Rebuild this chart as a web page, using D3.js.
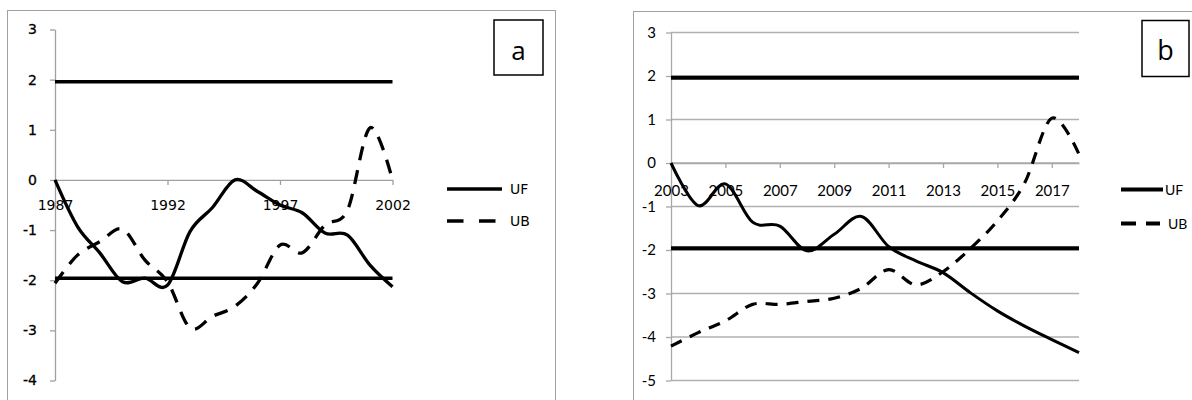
<!DOCTYPE html>
<html>
<head>
<meta charset="utf-8">
<script src="https://cdn.jsdelivr.net/npm/d3@7"></script>
<style>
  body { margin: 0; background: #fff; }
  svg { display: block; }
</style>
</head>
<body>
<svg></svg>
<script>
// chart data
const yearsA = [1987, 1988, 1989, 1990, 1991, 1992, 1993, 1994, 1995, 1996, 1997, 1998, 1999, 2000, 2001, 2002];
const ufA = [0, -0.93, -1.46, -2.03, -1.96, -2.1, -1.03, -0.55, 0.0, -0.23, -0.5, -0.66, -1.06, -1.1, -1.7, -2.13];
const ubA = [-2.06, -1.5, -1.23, -0.98, -1.6, -2.03, -2.95, -2.72, -2.52, -2.06, -1.3, -1.45, -0.9, -0.6, 1.04, 0.0];
const xTicksA = [1987, 1992, 1997, 2002];
const yTicksA = [3, 2, 1, 0, -1, -2, -3, -4];

const yearsB = [2003, 2004, 2005, 2006, 2007, 2008, 2009, 2010, 2011, 2012, 2013, 2014, 2015, 2016, 2017, 2018];
const ufB = [0, -0.98, -0.48, -1.36, -1.45, -2.02, -1.64, -1.23, -1.92, -2.25, -2.52, -2.98, -3.4, -3.75, -4.06, -4.36];
const ubB = [-4.21, -3.9, -3.63, -3.25, -3.25, -3.18, -3.11, -2.88, -2.45, -2.8, -2.5, -1.97, -1.33, -0.46, 1.03, 0.2];
const xTicksB = [2003, 2005, 2007, 2009, 2011, 2013, 2015, 2017];
const yTicksB = [3, 2, 1, 0, -1, -2, -3, -4, -5];

const critical = [1.96, -1.96];
const seriesNames = ['UF', 'UB'];

const width = 1192,
      height = 400;

const svg = d3.select('svg')
              .attr('width', width)
              .attr('height', height);

svg.append('rect')
   .attr('width', width).attr('height', height)
   .attr('fill', '#fff');

// smoothed lines like the spreadsheet ones
const curve = d3.curveCardinal.tension(0);

/* ---------- panel a ---------- */
const fontA = 'DejaVu Sans, Verdana, sans-serif';

const xA = d3.scaleLinear().domain([1987, 2002]).range([55, 392.5]);
const yA = d3.scaleLinear().domain([-4, 3]).range([380.5, 29.5]);

// outer frame
svg.append('rect')
   .attr('x', 7.5).attr('y', 10.5)
   .attr('width', 548).attr('height', 420)
   .attr('fill', 'none')
   .attr('stroke', '#a0a0a0');

// y axis
const yAxisA = svg.append('g')
   .attr('transform', 'translate(' + xA(1987) + ',0)')
   .call(d3.axisLeft(yA).tickValues(yTicksA).tickSize(5).tickSizeOuter(0).tickPadding(13).tickFormat(d => String(d)));

// x axis on the zero line
const xAxisA = svg.append('g')
   .attr('transform', 'translate(0,' + yA(0) + ')')
   .call(d3.axisBottom(xA).tickValues(xTicksA).tickSize(5).tickSizeOuter(0).tickFormat(d => String(d)));

xAxisA.selectAll('text').attr('y', 30).attr('dy', 0);

[yAxisA, xAxisA].forEach(function(g) {
  g.selectAll('path, line').attr('stroke', '#a0a0a0').attr('stroke-width', 1.3);
  g.selectAll('text')
   .attr('font-family', fontA)
   .attr('font-size', '14px')
   .attr('fill', '#000');
});
yAxisA.selectAll('text').attr('stroke', '#000').attr('stroke-width', 0.3);

// +/- 1.96 lines
svg.append('g').selectAll('line')
   .data(critical)
   .enter().append('line')
   .attr('x1', xA(1987)).attr('x2', xA(2002))
   .attr('y1', d => yA(d)).attr('y2', d => yA(d))
   .attr('stroke', '#000')
   .attr('stroke-width', 3.5);

const lineA = d3.line()
   .x((d, i) => xA(yearsA[i]))
   .y(d => yA(d))
   .curve(curve);

svg.append('path')
   .attr('d', lineA(ufA))
   .attr('fill', 'none')
   .attr('stroke', '#000')
   .attr('stroke-width', 3.3);

svg.append('path')
   .attr('d', lineA(ubA))
   .attr('fill', 'none')
   .attr('stroke', '#000')
   .attr('stroke-width', 3.3)
   .attr('stroke-dasharray', '14,10');

// legend a
const legA = svg.append('g').attr('font-family', fontA).attr('font-size', '14px');
seriesNames.forEach(function(name, i) {
  const ly = 189 + i * 32;
  legA.append('line')
      .attr('x1', 447).attr('x2', i === 0 ? 502 : 496)
      .attr('y1', ly).attr('y2', ly)
      .attr('stroke', '#000')
      .attr('stroke-width', 3.5)
      .attr('stroke-dasharray', i === 0 ? null : '16.5,15.5');
  legA.append('text')
      .attr('x', 510).attr('y', ly + 5)
      .text(name);
});

// label box a
svg.append('rect')
   .attr('x', 494).attr('y', 20)
   .attr('width', 49).attr('height', 55)
   .attr('fill', '#fff')
   .attr('stroke', '#000')
   .attr('stroke-width', 1.5);
svg.append('text')
   .attr('x', 518.5).attr('y', 60)
   .attr('text-anchor', 'middle')
   .attr('font-family', 'Open Sans, sans-serif')
   .attr('font-size', '26px')
   .text('a');

/* ---------- panel b ---------- */
const fontB = 'Lato, Open Sans, sans-serif';

const xB = d3.scaleLinear().domain([2003, 2018]).range([671, 1079]);
const yB = d3.scaleLinear().domain([-5, 3]).range([380.5, 32.5]);

svg.append('rect')
   .attr('x', 633.5).attr('y', 11.5)
   .attr('width', 580).attr('height', 420)
   .attr('fill', 'none')
   .attr('stroke', '#a0a0a0');

// horizontal gridlines
svg.append('g').selectAll('line')
   .data(yTicksB)
   .enter().append('line')
   .attr('x1', xB(2003)).attr('x2', xB(2018))
   .attr('y1', d => yB(d)).attr('y2', d => yB(d))
   .attr('stroke', '#b0b0b0')
   .attr('stroke-width', 1.3);

const yAxisB = svg.append('g')
   .attr('transform', 'translate(' + xB(2003) + ',0)')
   .call(d3.axisLeft(yB).tickValues(yTicksB).tickSize(5).tickSizeOuter(0).tickPadding(10).tickFormat(d => String(d)));

const xAxisB = svg.append('g')
   .attr('transform', 'translate(0,' + yB(0) + ')')
   .call(d3.axisBottom(xB).tickValues(xTicksB).tickSize(5).tickSizeOuter(0).tickFormat(d => String(d)));

xAxisB.selectAll('text').attr('y', 33).attr('dy', 0);

[yAxisB, xAxisB].forEach(function(g) {
  g.selectAll('path, line').attr('stroke', '#a8a8a8').attr('stroke-width', 1.3);
  g.selectAll('text')
   .attr('font-family', fontB)
   .attr('font-size', '15px')
   .attr('fill', '#000');
});

svg.append('g').selectAll('line')
   .data(critical)
   .enter().append('line')
   .attr('x1', xB(2003)).attr('x2', xB(2018))
   .attr('y1', d => yB(d)).attr('y2', d => yB(d))
   .attr('stroke', '#000')
   .attr('stroke-width', 4);

const lineB = d3.line()
   .x((d, i) => xB(yearsB[i]))
   .y(d => yB(d))
   .curve(curve);

svg.append('path')
   .attr('d', lineB(ufB))
   .attr('fill', 'none')
   .attr('stroke', '#000')
   .attr('stroke-width', 3);

svg.append('path')
   .attr('d', lineB(ubB))
   .attr('fill', 'none')
   .attr('stroke', '#000')
   .attr('stroke-width', 3.2)
   .attr('stroke-dasharray', '12,9');

// legend b
const legB = svg.append('g').attr('font-family', fontB).attr('font-size', '14px');
seriesNames.forEach(function(name, i) {
  const ly = 189.5 + i * 34;
  legB.append('line')
      .attr('x1', 1121).attr('x2', i === 0 ? 1163 : 1160)
      .attr('y1', ly).attr('y2', ly)
      .attr('stroke', '#000')
      .attr('stroke-width', 4)
      .attr('stroke-dasharray', i === 0 ? null : '15,10');
  legB.append('text')
      .attr('x', i === 0 ? 1165 : 1168).attr('y', ly + 5)
      .text(name);
});

svg.append('rect')
   .attr('x', 1142).attr('y', 20.5)
   .attr('width', 47).attr('height', 56)
   .attr('fill', '#fff')
   .attr('stroke', '#000')
   .attr('stroke-width', 1.5);
svg.append('text')
   .attr('x', 1165.5).attr('y', 60)
   .attr('text-anchor', 'middle')
   .attr('font-family', 'Open Sans, sans-serif')
   .attr('font-size', '27px')
   .text('b');
</script>
</body>
</html>
